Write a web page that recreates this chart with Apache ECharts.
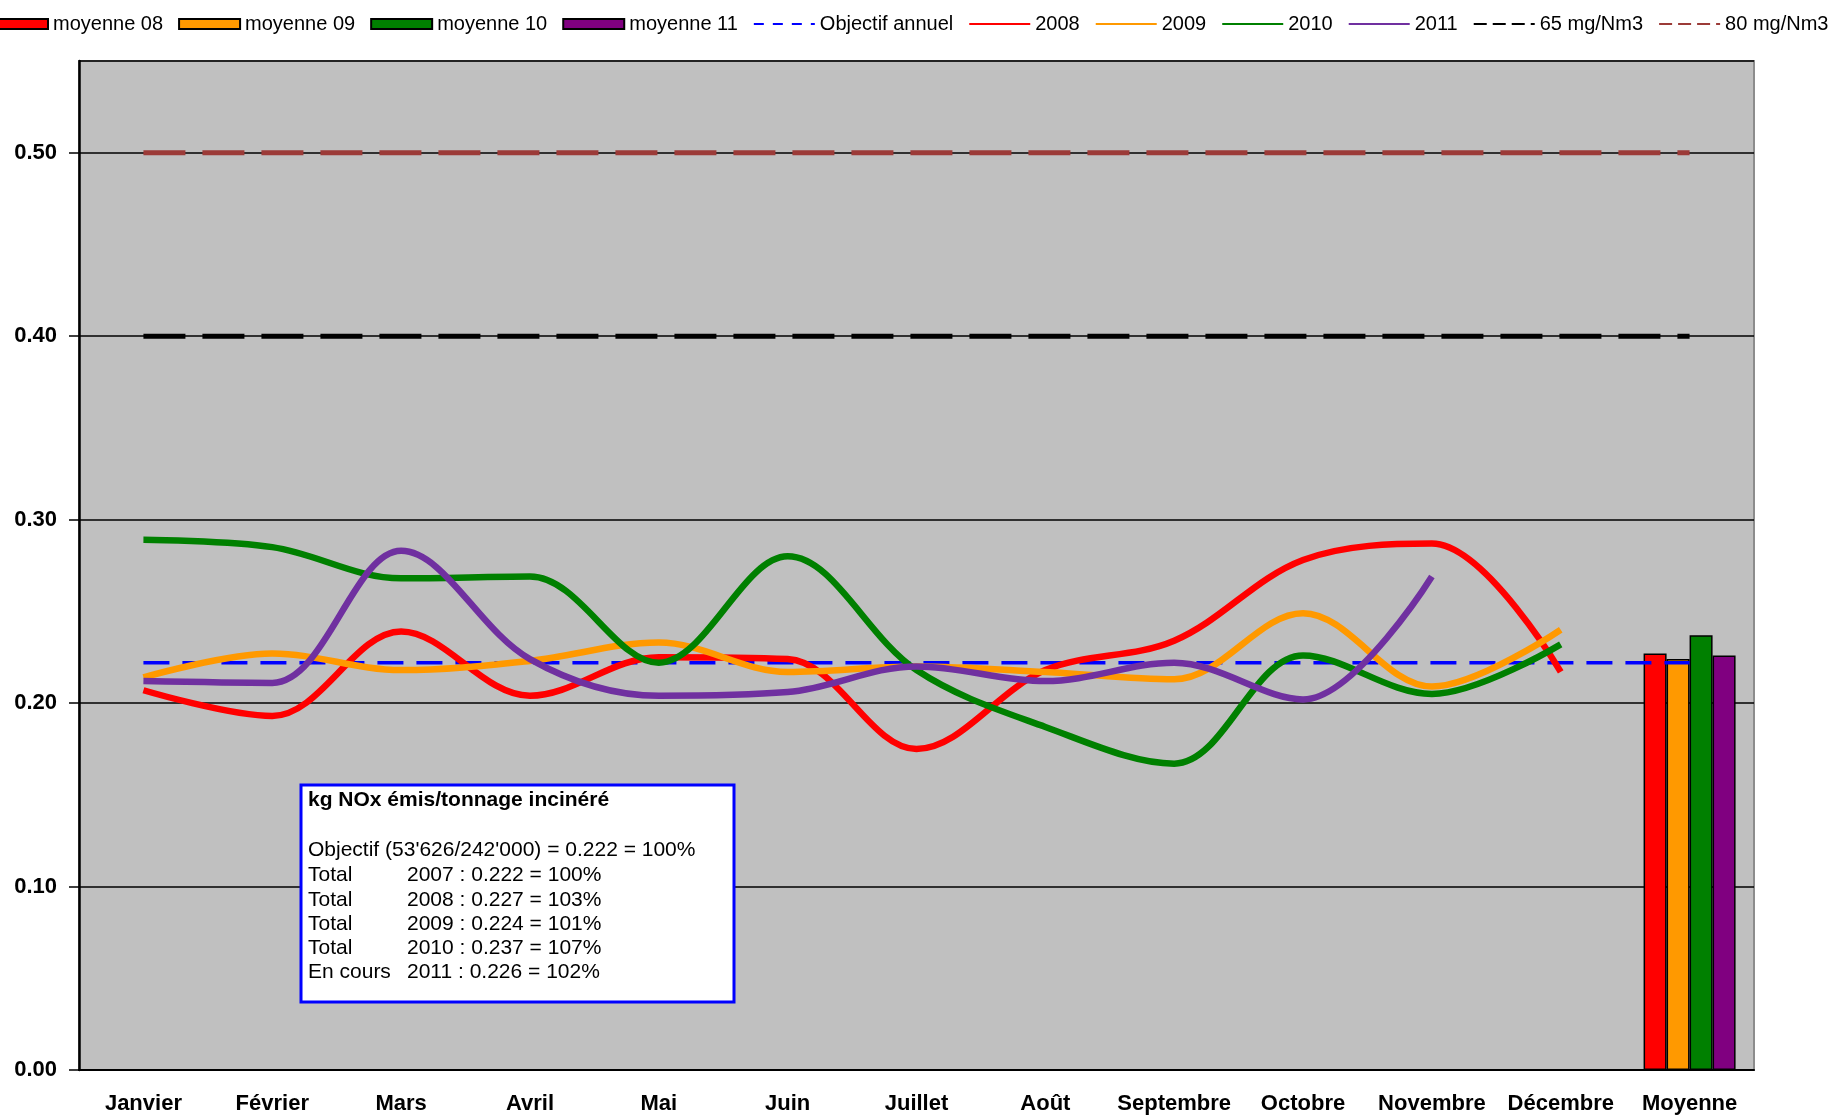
<!DOCTYPE html>
<html>
<head>
<meta charset="utf-8">
<script src="https://cdn.jsdelivr.net/npm/echarts@6/dist/echarts.min.js"></script>
<style>
html, body { margin: 0; padding: 0; background: #fff; }
#chart { width: 1835px; height: 1119px; }
</style>
</head>
<body>
<div id="chart"></div>
<script>
var months = ['Janvier', 'Février', 'Mars', 'Avril', 'Mai', 'Juin', 'Juillet', 'Août', 'Septembre', 'Octobre', 'Novembre', 'Décembre', 'Moyenne'];
var data2008 = [0.207, 0.193, 0.239, 0.204, 0.225, 0.224, 0.175, 0.218, 0.234, 0.278, 0.287, 0.217];
var data2009 = [0.214, 0.227, 0.218, 0.223, 0.233, 0.217, 0.220, 0.217, 0.213, 0.249, 0.209, 0.240];
var data2010 = [0.289, 0.285, 0.268, 0.269, 0.222, 0.280, 0.218, 0.187, 0.167, 0.226, 0.205, 0.232];
var data2011 = [0.212, 0.211, 0.283, 0.224, 0.204, 0.206, 0.220, 0.212, 0.222, 0.202, 0.269];

// encadré : totaux annuels
var totalLabels = ['Total', 'Total', 'Total', 'Total', 'En cours'];
var totalYears = ['2007', '2008', '2009', '2010', '2011'];
var totalValues = [0.222, 0.227, 0.224, 0.237, 0.226];
var totalPercents = [100, 103, 101, 107, 102];

var objectif = 0.222;
var limit65 = 0.40;
var limit80 = 0.50;

var font = "'Liberation Sans', Arial, sans-serif";

function moyenne(v) {
	var d = [];
	for (var i = 0; i < months.length; ++i) {
		d.push(i == months.length - 1 ? v : '-');
	}
	return d;
}

function flat(v) {
	var d = [];
	for (var i = 0; i < months.length; ++i) {
		d.push(v);
	}
	return d;
}

function barSerie(name, color, value) {
	return {
		name: name,
		type: 'bar',
		barWidth: 23,
		barGap: '0%',
		itemStyle: { color: color, borderColor: '#000', borderWidth: 1.5 },
		data: moyenne(value)
	};
}

function lineSerie(name, color, data, width, dash, smooth) {
	return {
		name: name,
		type: 'line',
		symbol: 'none',
		smooth: smooth,
		color: color,
		lineStyle: { color: color, width: width, type: dash },
		data: data
	};
}

// pas de point au milieu des icônes de ligne
function lineLegend(name, dash) {
	return {
		name: name,
		lineStyle: { width: 2, type: dash },
		itemStyle: { color: 'rgba(0,0,0,0)', borderWidth: 0, opacity: 0 }
	};
}

// texte de l'encadré
var boxTexts = [
	{ type: 'text', left: 308, top: 790, style: { text: 'kg NOx émis/tonnage incinéré', font: 'bold 21px ' + font, fill: '#000' } },
	{ type: 'text', left: 308, top: 840, style: { text: "Objectif (53'626/242'000) = " + objectif.toFixed(3) + ' = 100%', font: '21px ' + font, fill: '#000' } }
];
for (var i = 0; i < totalYears.length; ++i) {
	boxTexts.push({ type: 'text', left: 308, top: 865 + i * 24.3, style: { text: totalLabels[i], font: '21px ' + font, fill: '#000' } });
	boxTexts.push({ type: 'text', left: 407, top: 865 + i * 24.3, style: { text: totalYears[i] + ' : ' + totalValues[i].toFixed(3) + ' = ' + totalPercents[i] + '%', font: '21px ' + font, fill: '#000' } });
}

var chart = echarts.init(document.getElementById('chart'));
var option = {
	animation: false,
	backgroundColor: '#fff',
	textStyle: { fontFamily: font },
	legend: {
		left: -19,
		top: 9,
		width: 1900,
		itemWidth: 61,
		itemHeight: 10,
		itemGap: 15,
		textStyle: { fontSize: 20, color: '#000', fontFamily: font },
		data: [
			{ name: 'moyenne 08', icon: 'rect' },
			{ name: 'moyenne 09', icon: 'rect' },
			{ name: 'moyenne 10', icon: 'rect' },
			{ name: 'moyenne 11', icon: 'rect' },
			lineLegend('Objectif annuel', [10, 9]),
			lineLegend('2008', 'solid'),
			lineLegend('2009', 'solid'),
			lineLegend('2010', 'solid'),
			lineLegend('2011', 'solid'),
			lineLegend('65 mg/Nm3', [13, 6]),
			lineLegend('80 mg/Nm3', [13, 6])
		]
	},
	grid: {
		left: 79,
		right: 81,
		top: 61,
		bottom: 49,
		show: true,
		backgroundColor: '#c0c0c0',
		borderColor: '#8c8c8c',
		borderWidth: 2
	},
	xAxis: {
		type: 'category',
		data: months,
		boundaryGap: true,
		axisLine: { lineStyle: { color: '#000', width: 2 } },
		axisTick: { interval: 0, length: 8, lineStyle: { color: '#000', width: 1.5 } },
		axisLabel: { interval: 0, color: '#000', fontSize: 22, fontWeight: 'bold', margin: 23, fontFamily: font },
		splitLine: { show: false }
	},
	yAxis: {
		type: 'value',
		min: 0,
		max: 0.55,
		interval: 0.1,
		axisLine: { show: true, lineStyle: { color: '#000', width: 2.5 } },
		axisTick: { show: true, length: 10, lineStyle: { color: '#000', width: 1.5 } },
		axisLabel: {
			color: '#000', fontSize: 22, fontWeight: 'bold', margin: 22, fontFamily: font,
			showMaxLabel: false,
			formatter: function(v) { return v.toFixed(2); }
		},
		splitLine: { lineStyle: { color: '#000', width: 1.5 } }
	},
	series: [
		barSerie('moyenne 08', '#ff0000', totalValues[1]),
		barSerie('moyenne 09', '#ff9900', totalValues[2]),
		barSerie('moyenne 10', '#008000', totalValues[3]),
		barSerie('moyenne 11', '#800080', totalValues[4]),
		lineSerie('Objectif annuel', '#0000ff', flat(objectif), 3.5, [26, 13], false),
		lineSerie('2008', '#ff0000', data2008, 6.5, 'solid', 0.35),
		lineSerie('2009', '#ff9900', data2009, 6.5, 'solid', 0.35),
		lineSerie('2010', '#008000', data2010, 6.5, 'solid', 0.35),
		lineSerie('2011', '#7030a0', data2011, 6.5, 'solid', 0.35),
		lineSerie('65 mg/Nm3', '#000000', flat(limit65), 5, [42, 17], false),
		lineSerie('80 mg/Nm3', '#9c3b38', flat(limit80), 5, [42, 17], false)
	],
	graphic: [{
		type: 'group',
		z: 100,
		children: [{
			type: 'rect',
			z: 100,
			shape: { x: 301, y: 785, width: 433, height: 217 },
			style: { fill: '#fff', stroke: '#0000ff', lineWidth: 3 }
		}].concat(boxTexts.map(function(t) { t.z = 101; return t; }))
	}]
};
chart.setOption(option);
</script>
</body>
</html>
